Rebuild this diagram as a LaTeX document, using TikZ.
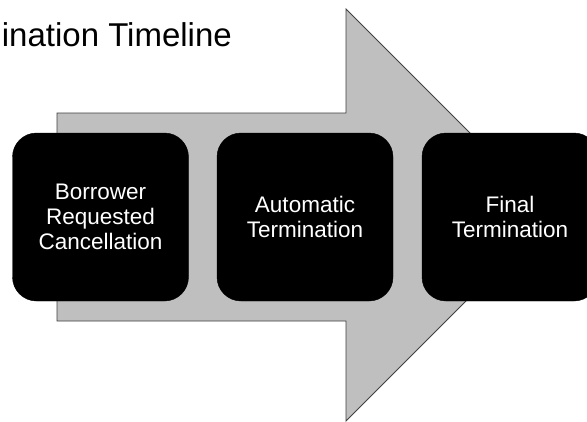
\documentclass[tikz,border=0pt]{standalone}
\usepackage{fontspec}
\setmainfont{Liberation Sans}
\begin{document}
\begin{tikzpicture}[x=1pt,y=-1pt,
  stagebox/.style={fill=black, draw=black, rounded corners=24pt,
    minimum width=176pt, minimum height=168pt, inner sep=0pt,
    text=white, align=center, font=\fontsize{22.5}{25}\selectfont},
  bigarrow/.style={fill=black!25, draw=black!75, line width=0.8pt}]
  \useasboundingbox (0,0) rectangle (587,421);
  \clip (0,0) rectangle (587,421);
  \fill[white] (0,0) rectangle (587,421);

  % title
  \node[anchor=base east, inner sep=0pt, font=\fontsize{33}{36}\selectfont]
    (title) at (232,46) {ination Timeline};

  % broad block arrow behind the stages
  \draw[bigarrow] (57,113) -- (346,113) -- (346,9) -- (552,215)
    -- (346,421) -- (346,321) -- (57,321) -- cycle;

  % stages
  \node[stagebox] (s1) at (100.5,217) {Borrower\\Requested\\Cancellation};
  \node[stagebox] (s2) at (305,217) {Automatic\\Termination};
  \node[stagebox] (s3) at (510,217) {Final\\Termination};
\end{tikzpicture}
\end{document}
